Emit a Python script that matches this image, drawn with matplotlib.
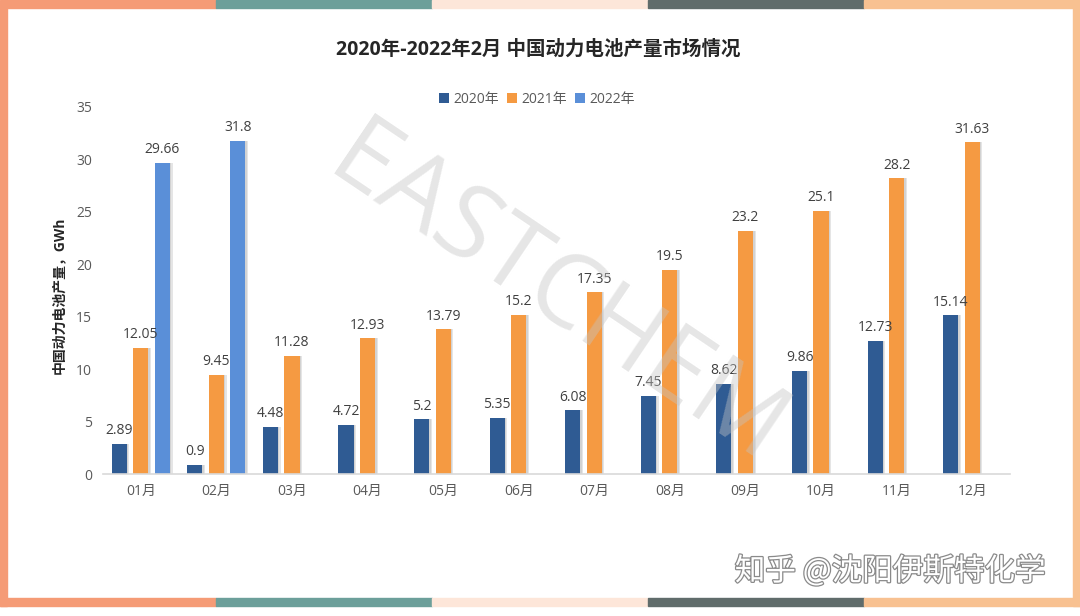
import matplotlib
matplotlib.use("Agg")
import matplotlib.pyplot as plt
import matplotlib.patheffects as pe
from matplotlib.patches import Rectangle
import numpy as np

plt.rcParams['font.family'] = ['Open Sans', 'Noto Sans CJK SC', 'DejaVu Sans']

months = ['01月', '02月', '03月', '04月', '05月', '06月', '07月', '08月', '09月', '10月', '11月', '12月']
series_names = ['2020年', '2021年', '2022年']
v2020 = [2.89, 0.9, 4.48, 4.72, 5.2, 5.35, 6.08, 7.45, 8.62, 9.86, 12.73, 15.14]
v2021 = [12.05, 9.45, 11.28, 12.93, 13.79, 15.2, 17.35, 19.5, 23.2, 25.1, 28.2, 31.63]
v2022 = [29.66, 31.8, None, None, None, None, None, None, None, None, None, None]
colors = ['#2F5B93', '#F59A42', '#5A8FD8']
title = '2020年-2022年2月 中国动力电池产量市场情况'
ylabel = '中国动力电池产量，GWh'

W, H = 1080, 616
fig = plt.figure(figsize=(W / 100, H / 100), dpi=100)
fig.patch.set_facecolor('white')

# decorative border
strip_cols = ['#F59B76', '#6C9F9A', '#FDE6D9', '#606C6B', '#F8C191']
for i, c in enumerate(strip_cols):
    fig.add_artist(Rectangle((i * 216 / W, 1 - 8 / H), 216 / W, 8 / H,
                             transform=fig.transFigure, color=c, zorder=0))
    fig.add_artist(Rectangle((i * 216 / W, 10 / H), 216 / W, 8 / H,
                             transform=fig.transFigure, color=c, zorder=0))
fig.add_artist(Rectangle((0, 10 / H), 7 / W, (H - 18) / H,
                         transform=fig.transFigure, color='#F59B76', zorder=0))
fig.add_artist(Rectangle((1 - 7 / W, 10 / H), 7 / W, (H - 18) / H,
                         transform=fig.transFigure, color='#F8C191', zorder=0))

ax = fig.add_axes([103 / W, 1 - 474 / H, (1010 - 103) / W, (474 - 107) / H])
ax.set_facecolor('none')

x = np.arange(len(months))
bw = 0.2
offs = [-0.285, 0.0, 0.285]
all_series = [v2020, v2021, v2022]
for s, (vals, col, off, name) in enumerate(zip(all_series, colors, offs, series_names)):
    xs = [xi + off for xi, v in zip(x, vals) if v is not None]
    ys = [v for v in vals if v is not None]
    # soft shadow
    ax.bar([xx + 0.035 for xx in xs], ys, width=bw, color='#9a9a9a', alpha=0.25, zorder=1, linewidth=0)
    ax.bar([xx + 0.02 for xx in xs], ys, width=bw, color='#9a9a9a', alpha=0.25, zorder=1, linewidth=0)
    ax.bar(xs, ys, width=bw, color=col, zorder=2, label=name, linewidth=0)
    for xx, yy in zip(xs, ys):
        ax.annotate(f'{yy:g}', (xx, yy), xytext=(0, 4), textcoords='offset points',
                    ha='center', va='bottom', fontsize=10, color='#404040', zorder=5)

ax.set_xlim(-0.5, len(months) - 0.5)
ax.set_ylim(0, 35)
ax.set_yticks(np.arange(0, 36, 5))
ax.set_xticks(x)
ax.set_xticklabels(months)
ax.tick_params(axis='both', length=0, labelsize=10, labelcolor='#595959')
ax.tick_params(axis='x', pad=7)
ax.tick_params(axis='y', pad=8)
for sp in ['top', 'right', 'left']:
    ax.spines[sp].set_visible(False)
ax.spines['bottom'].set_color('#D9D9D9')
ax.spines['bottom'].set_linewidth(1.2)

fig.text(59 / W, 1 - 295 / H, ylabel, rotation=90, ha='center', va='center',
         fontsize=10, fontweight='bold', color='#262626')
fig.text(538 / W, 1 - 50 / H, title, ha='center', va='center',
         fontsize=14, fontweight='bold', color='#262626')

handles, labels = ax.get_legend_handles_labels()
fig.legend(handles, labels, loc='center', bbox_to_anchor=(537 / W, 1 - 99 / H), ncol=3,
           frameon=False, handlelength=0.7, handleheight=0.7, handletextpad=0.3,
           columnspacing=0.6, fontsize=10, labelcolor='#595959')

# watermarks
fig.text(556 / W, 1 - 298 / H, 'EASTCHEM', rotation=-34, rotation_mode='anchor',
         ha='center', va='center', fontsize=74, color='#c4c4c4', alpha=0.42,
         family=['Open Sans', 'DejaVu Sans'], fontweight='normal', zorder=10)
fig.text(890 / W, 1 - 571 / H, '知乎 @沈阳伊斯特化学', ha='center', va='center',
         fontsize=22, color='white', zorder=10, family=['Noto Sans CJK SC', 'DejaVu Sans'],
         path_effects=[pe.withStroke(linewidth=1.8, foreground='#8a8a8a')])

fig.savefig('out.png', dpi=100, facecolor='white')
